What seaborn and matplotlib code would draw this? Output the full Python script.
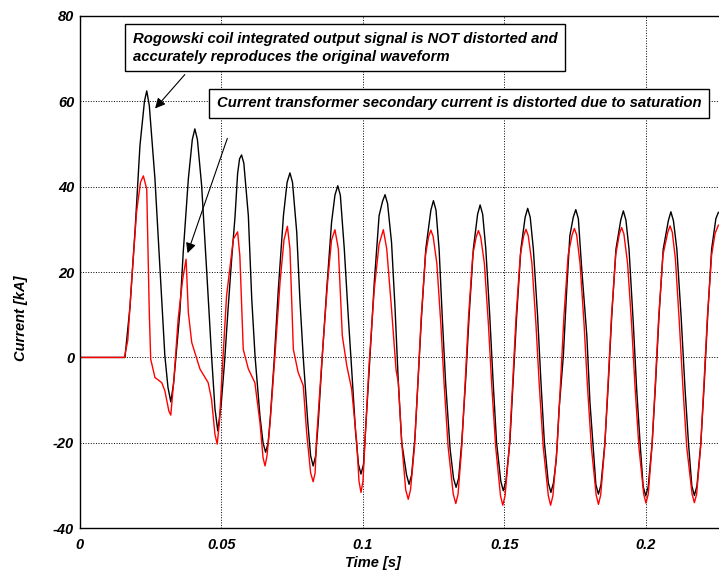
import numpy as np
import pandas as pd
import matplotlib
matplotlib.use('Agg')
import matplotlib.pyplot as plt
import seaborn as sns

# Rogowski coil integrated output (black)
rogowski_t = [0, 0.0160, 0.0178, 0.0196, 0.0213, 0.0229, 0.0237, 0.0246, 0.0266, 0.0284,
              0.0301, 0.0312, 0.0322, 0.0332, 0.0354, 0.0366, 0.0384, 0.0398, 0.0407, 0.0416,
              0.0431, 0.0449, 0.0466, 0.0478, 0.0488, 0.0500, 0.0512, 0.0524, 0.0537, 0.0549,
              0.0558, 0.0565, 0.0572, 0.0580, 0.0596, 0.0608, 0.0620, 0.0637, 0.0648, 0.0657,
              0.0666, 0.0674, 0.0688, 0.0702, 0.0720, 0.0733, 0.0743, 0.0752, 0.0767, 0.0778,
              0.0790, 0.0806, 0.0816, 0.0825, 0.0834, 0.0843, 0.0857, 0.0873, 0.0890, 0.0902,
              0.0912, 0.0921, 0.0935, 0.0949, 0.0961, 0.0975, 0.0985, 0.0994, 0.1003, 0.1011,
              0.1026, 0.1041, 0.1058, 0.1070, 0.1079, 0.1088, 0.1102, 0.1114, 0.1126, 0.1138,
              0.1155, 0.1164, 0.1173, 0.1185, 0.1196, 0.1208, 0.1223, 0.1241, 0.1250, 0.1259,
              0.1270, 0.1281, 0.1293, 0.1309, 0.1321, 0.1330, 0.1339, 0.1350, 0.1364, 0.1376,
              0.1391, 0.1406, 0.1415, 0.1424, 0.1435, 0.1449, 0.1461, 0.1473, 0.1488, 0.1497,
              0.1506, 0.1520, 0.1532, 0.1544, 0.1559, 0.1574, 0.1583, 0.1592, 0.1603, 0.1618,
              0.1630, 0.1642, 0.1656, 0.1665, 0.1674, 0.1684, 0.1694, 0.1709, 0.1721, 0.1732,
              0.1744, 0.1753, 0.1762, 0.1774, 0.1792, 0.1803, 0.1815, 0.1824, 0.1833, 0.1842,
              0.1856, 0.1868, 0.1880, 0.1895, 0.1912, 0.1921, 0.1930, 0.1941, 0.1956, 0.1968,
              0.1980, 0.1991, 0.2000, 0.2009, 0.2023, 0.2035, 0.2047, 0.2062, 0.2080, 0.2089,
              0.2098, 0.2110, 0.2125, 0.2139, 0.2151, 0.2163, 0.2172, 0.2181, 0.2195, 0.2207,
              0.2219, 0.2233, 0.2248, 0.2257]
rogowski_kA = [0, 0, 12, 30, 49.6, 60, 62.4, 59, 41.8, 20.7,
               0.4, -7, -10.4, -6, 10.6, 24.7, 41.8, 51, 53.5, 51,
               40.2, 20, 0.4, -12, -17.2, -11, -1, 11, 23, 33,
               43, 46.5, 47.4, 45.5, 33.2, 13.7, 0, -13.7, -20, -22.2,
               -20, -13.7, 0, 16, 33.2, 41, 43.2, 41, 29.3, 13.7,
               0, -15.2, -23, -25.4, -23, -15.2, 0, 16, 31.6, 38,
               40.2, 38, 25.4, 9.7, -2.7, -17.6, -25, -27.3, -25, -16,
               0.4, 17.6, 33.2, 36.5, 38.1, 36, 26.9, 12, -5.9, -19.9,
               -27.5, -29.7, -27.5, -18.4, -5.1, 9.7, 25.4, 34.5, 36.7, 34.5,
               25.4, 9.7, -5.9, -21.5, -28.3, -30.4, -28.3, -19.9, -5.1, 9.7,
               25.4, 33.5, 35.7, 33.5, 25.4, 9.7, -5.9, -19.9, -29, -31.2,
               -29, -19.9, -5.1, 9.7, 25.4, 32.8, 34.9, 32.8, 25.4, 9.7,
               -5.9, -19.9, -29.4, -31.6, -29.4, -24, -12.1, 0.4, 16, 28.5,
               32.8, 34.6, 32.5, 20.7, 5.1, -10.5, -21.5, -29.8, -32.0, -29.8,
               -19.9, -5.9, 9.7, 25.4, 32.2, 34.3, 32.2, 25.4, 8.2, -7.4,
               -19.9, -30.2, -32.4, -30.2, -19.9, -5.9, 9.7, 25.4, 32, 34.1,
               32, 25.4, 9.7, -7.4, -19.9, -30.1, -32.3, -30.1, -19.9, -5.9,
               9.7, 25.4, 32.5, 34]

# current transformer secondary current (red)
ct_t = [0, 0.0158, 0.0170, 0.0184, 0.0201, 0.0215, 0.0225, 0.0237, 0.0246, 0.0251,
        0.0266, 0.0290, 0.0301, 0.0315, 0.0322, 0.0333, 0.0348, 0.0364, 0.0376, 0.0384,
        0.0396, 0.0425, 0.0454, 0.0466, 0.0478, 0.0486, 0.0494, 0.0502, 0.0519, 0.0543,
        0.0558, 0.0566, 0.0578, 0.0596, 0.0619, 0.0637, 0.0648, 0.0655, 0.0662, 0.0672,
        0.0690, 0.0708, 0.0722, 0.0734, 0.0743, 0.0755, 0.0772, 0.0790, 0.0802, 0.0816,
        0.0825, 0.0832, 0.0837, 0.0857, 0.0876, 0.0890, 0.0902, 0.0914, 0.0928, 0.0944,
        0.0961, 0.0979, 0.0987, 0.0994, 0.1001, 0.1008, 0.1023, 0.1041, 0.1058, 0.1073,
        0.1085, 0.1102, 0.1118, 0.1126, 0.1138, 0.1152, 0.1161, 0.1169, 0.1183, 0.1195,
        0.1207, 0.1222, 0.1233, 0.1241, 0.1249, 0.1262, 0.1276, 0.1288, 0.1302, 0.1320,
        0.1329, 0.1337, 0.1350, 0.1362, 0.1374, 0.1389, 0.1401, 0.1409, 0.1417, 0.1430,
        0.1444, 0.1456, 0.1470, 0.1487, 0.1495, 0.1503, 0.1518, 0.1530, 0.1542, 0.1557,
        0.1569, 0.1577, 0.1585, 0.1598, 0.1612, 0.1624, 0.1638, 0.1656, 0.1664, 0.1672,
        0.1687, 0.1699, 0.1711, 0.1726, 0.1740, 0.1748, 0.1756, 0.1768, 0.1782, 0.1794,
        0.1808, 0.1825, 0.1833, 0.1841, 0.1855, 0.1867, 0.1879, 0.1894, 0.1907, 0.1915,
        0.1923, 0.1936, 0.1950, 0.1962, 0.1976, 0.1993, 0.2001, 0.2009, 0.2022, 0.2034,
        0.2046, 0.2061, 0.2078, 0.2086, 0.2094, 0.2105, 0.2119, 0.2131, 0.2145, 0.2164,
        0.2172, 0.2180, 0.2194, 0.2206, 0.2218, 0.2233, 0.2245, 0.2257]
ct_kA = [0, 0, 4, 18.3, 34, 41, 42.5, 39.4, 10.5, -0.4,
         -4.7, -5.9, -7.8, -12.5, -13.5, -5.1, 9, 18.3, 23, 10.5,
         3.5, -2.7, -5.9, -9.8, -18, -20.3, -15, -5.1, 14.4, 27.7,
         29.4, 23.8, 1.9, -2.7, -5.9, -15.2, -23.5, -25.4, -23, -16,
         0.4, 17.6, 27.5, 30.7, 25.4, 1.9, -3.5, -6.6, -17.6, -27,
         -29.1, -27, -19.1, 0.4, 17.6, 27.5, 29.9, 25.4, 5.1, -2,
         -7.4, -19.9, -29, -31.6, -29, -19.9, -1.2, 16, 26.5, 29.9,
         25.4, 11.3, -3, -5.9, -20, -31, -33.2, -31, -21, -6,
         9.5, 24, 28.3, 29.8, 28.3, 22, 8, -6.5, -21, -32,
         -34.2, -32, -21, -6, 9.5, 24, 28.2, 29.7, 28.2, 22,
         8, -6.5, -21, -32.4, -34.6, -32.4, -21, -6, 9.5, 24,
         28.5, 30.0, 28.5, 22, 8, -6.5, -21, -32.4, -34.6, -32.4,
         -21, -6, 9.5, 24, 28.7, 30.2, 28.7, 22, 8, -6.5,
         -21, -32.2, -34.4, -32.2, -21, -6, 9.5, 24, 28.9, 30.4,
         28.9, 22, 8, -6.5, -21, -32, -34.1, -32, -21, -6,
         9.5, 24, 29.3, 30.8, 29.3, 23, 8, -6.5, -21, -32,
         -34.0, -32, -21, -6, 9.5, 24, 29, 31]

x_ticks = [0, 0.05, 0.1, 0.15, 0.2]
x_tick_labels = ['0', '0.05', '0.1', '0.15', '0.2']
y_ticks = [-40, -20, 0, 20, 40, 60, 80]

note_rogowski = ('Rogowski coil integrated output signal is NOT distorted and\n'
                 'accurately reproduces the original waveform')
note_ct = 'Current transformer secondary current is distorted due to saturation'

sns.set_style('white')
plt.rcParams['font.family'] = ['Liberation Sans', 'DejaVu Sans']
plt.rcParams['axes.unicode_minus'] = False
for key in ['text.color', 'axes.labelcolor', 'xtick.color', 'ytick.color']:
    plt.rcParams[key] = 'black'

fig = plt.figure(figsize=(7.19, 5.73), dpi=100)
ax = fig.add_axes([0.1108, 0.078, 0.8892, 0.8946])

sns.lineplot(x=rogowski_t, y=rogowski_kA, color='black', lw=1.0, ax=ax,
             estimator=None, sort=False)
sns.lineplot(x=ct_t, y=ct_kA, color='#ff0000', lw=1.0, ax=ax,
             estimator=None, sort=False)

ax.set_xlim(0, 0.2259)
ax.set_ylim(-40, 80)
ax.set_xticks(x_ticks)
ax.set_xticklabels(x_tick_labels)
ax.set_yticks(y_ticks)
ax.grid(True, color='black', linestyle=':', lw=0.7)
ax.tick_params(direction='in', length=3, labelsize=10.5, pad=4)
ax.tick_params(axis='x', pad=7)
for lab in ax.get_xticklabels() + ax.get_yticklabels():
    lab.set_fontweight('bold')
    lab.set_fontstyle('italic')
for side in ['left', 'bottom', 'top']:
    ax.spines[side].set_color('black')
    ax.spines[side].set_linewidth(1.0)
ax.spines['right'].set_visible(False)

ax.set_xlabel('Time [s]', fontsize=10.5, fontweight='bold', fontstyle='italic')
ax.set_ylabel('Current [kA]', fontsize=10.5, fontweight='bold', fontstyle='italic')
ax.xaxis.set_label_coords(0.459, -0.054)
ax.yaxis.set_label_coords(-0.081, 0.41)

box = dict(boxstyle='square,pad=0.5', fc='white', ec='black', lw=1.0)
ax.text(0.0188, 72.5, note_rogowski, ha='left', va='center', fontsize=10.7,
        fontweight='bold', fontstyle='italic', linespacing=1.4, bbox=box, zorder=5)
ax.text(0.0485, 59.5, note_ct, ha='left', va='center', fontsize=10.7,
        fontweight='bold', fontstyle='italic', bbox=box, zorder=5)

arrow = dict(arrowstyle='-|>', color='black', lw=0.8, mutation_scale=15)
ax.annotate('', xy=(0.0260, 57.8), xytext=(0.0378, 66.7), arrowprops=arrow, zorder=6)
ax.annotate('', xy=(0.0378, 23.8), xytext=(0.0525, 51.9), arrowprops=arrow, zorder=6)

fig.savefig('out.png', dpi=100)
